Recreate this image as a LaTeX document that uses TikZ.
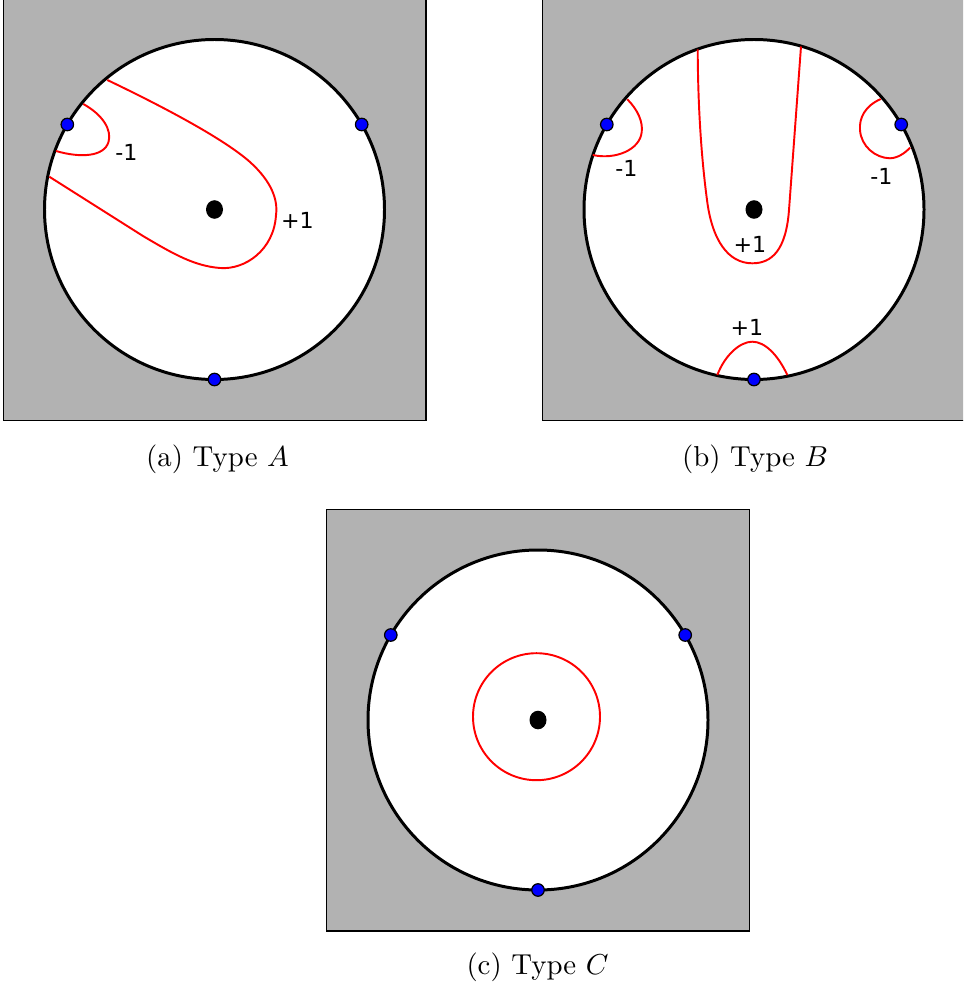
\documentclass[tikz,border=0pt]{standalone}
\usepackage{fontspec}
\newfontfamily\labfont{DejaVu Sans}
\definecolor{panelgray}{gray}{0.7}
\begin{document}
\begin{tikzpicture}[x=0.01cm,y=-0.01cm,
  panel/.style={fill=panelgray,draw=black,line width=0.45pt},
  disk/.style={fill=white,draw=black,line width=0.85pt},
  curve/.style={draw=red,line width=0.55pt},
  bdot/.style={circle,fill=blue,draw=black,line width=0.35pt,inner sep=0pt,minimum size=0.125cm},
  sign/.style={anchor=base,inner sep=0pt,font=\labfont\fontsize{6.3pt}{7.5pt}\selectfont},
  capt/.style={anchor=base,inner sep=0pt}]
\useasboundingbox (0,0) rectangle (963,991);
\clip (0,0) rectangle (963,991);
% ---------- panel A ----------
\draw[panel] (3.5,-2) rectangle (426,420.5);
\coordinate (cA) at (214.5,209.5);
\draw[disk] (cA) circle[radius=170];
\fill (cA) ellipse[x radius=8.5,y radius=9.3];
\draw[curve] (83.3,104) .. controls (103,115) and (112,130) .. (108.5,142)
  .. controls (104,157) and (80,158) .. (56,151);
\draw[curve] (107.3,80) .. controls (170,110) and (225,140) .. (250,162)
  .. controls (272,182) and (278,200) .. (276,215)
  .. controls (274,250) and (245,270) .. (220,268)
  .. controls (195,266) and (175,255) .. (143,236) -- (49.3,176.7);
\node[sign] (lA1) at (126.5,160) {-1};
\node[sign] (lA2) at (297.5,228.3) {+1};
\node[bdot] (dA1) at (67.3,124.5) {};
\node[bdot] (dA2) at (361.7,124.5) {};
\node[bdot] (dA3) at (214.5,379.5) {};
\node[capt] (capA) at (217.5,466.5) {\scalebox{0.82}{(a) Type $A$}};
% ---------- panel B ----------
\draw[panel] (542.7,-2) rectangle (966,420.7);
\coordinate (cB) at (754,209.5);
\draw[disk] (cB) circle[radius=170];
\fill (cB) ellipse[x radius=8.5,y radius=9.3];
\draw[curve] (627.3,99.3) .. controls (638,110) and (643,122) .. (641.7,132)
  .. controls (640,150) and (615,160) .. (592.7,155);
\draw[curve] (880.7,99) .. controls (865,106) and (859,118) .. (860,130)
  .. controls (861,146) and (875,158) .. (890,158.3)
  .. controls (898,158) and (905,153) .. (910,147.7);
\draw[curve] (697.7,49.5) .. controls (698,120) and (703,170) .. (707,200)
  .. controls (712,240) and (728,263.3) .. (752.3,263.3)
  .. controls (772,263.3) and (786,250) .. (789,210) -- (801,46.5);
\draw[curve] (717.3,375) .. controls (725,355) and (740,341.7) .. (752.3,341.7)
  .. controls (765,341.7) and (778,355) .. (787.3,375);
\node[sign] (lB1) at (626.3,176.7) {-1};
\node[sign] (lB2) at (881.3,184.3) {-1};
\node[sign] (lB3) at (750,252.3) {+1};
\node[sign] (lB4) at (747,335) {+1};
\node[bdot] (dB1) at (606.8,124.5) {};
\node[bdot] (dB2) at (901.2,124.5) {};
\node[bdot] (dB3) at (754,379.5) {};
\node[capt] (capB) at (755,466.5) {\scalebox{0.82}{(b) Type $B$}};
% ---------- panel C ----------
\draw[panel] (326.7,509.3) rectangle (749.3,930.7);
\coordinate (cC) at (538,720);
\draw[disk] (cC) circle[radius=170];
\fill (cC) ellipse[x radius=8.5,y radius=9.3];
\draw[curve] (536.5,716.7) circle[radius=63.5];
\node[bdot] (dC1) at (390.8,635) {};
\node[bdot] (dC2) at (685.2,635) {};
\node[bdot] (dC3) at (538,890) {};
\node[capt] (capC) at (537.5,974.3) {\scalebox{0.82}{(c) Type $C$}};
\end{tikzpicture}
\end{document}
